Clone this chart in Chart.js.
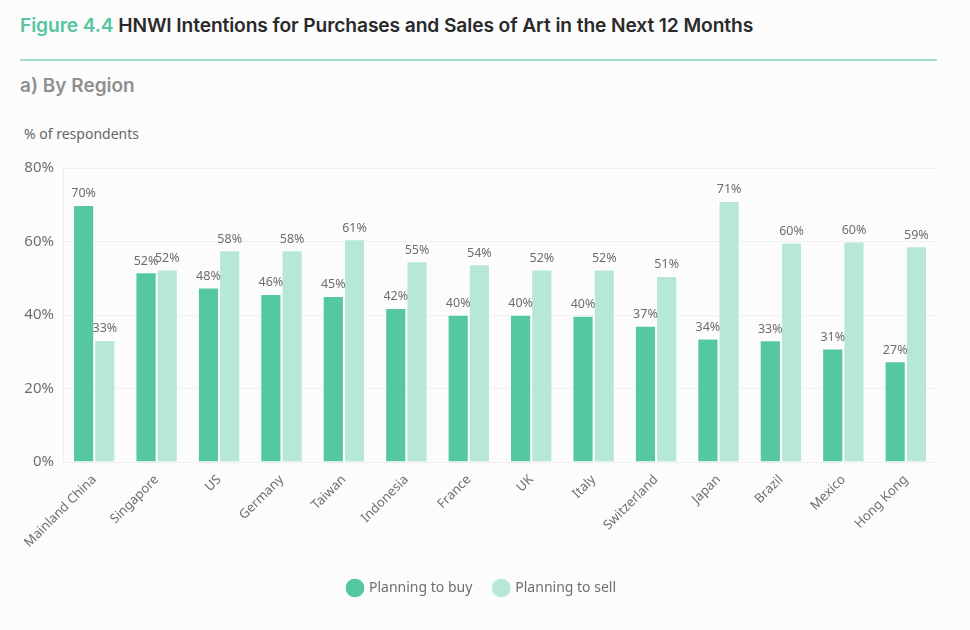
<!DOCTYPE html>
<html>
<head>
<meta charset="utf-8">
<script src="https://cdn.jsdelivr.net/npm/chart.js@4.4.1/dist/chart.umd.min.js"></script>
<style>
  html, body { margin:0; padding:0; background:#fcfcfc; }
  body { width:970px; height:630px; position:relative; overflow:hidden; font-family:"Inter", "Noto Sans", sans-serif; }
  #title { position:absolute; left:20px; top:13px; font-size:19.2px; font-weight:600; color:#2a2a2a; letter-spacing:-0.1px; white-space:nowrap; }
  #title span { color:#56c69e; }
  #rule { position:absolute; left:20px; top:59px; width:917px; height:2px; background:#a3dfc9; }
  #sub { position:absolute; left:20px; top:74px; font-size:19px; font-weight:600; color:#8f8f8f; }
  #ytitle { position:absolute; left:24px; top:124px; font-size:14px; color:#666; font-family:"Noto Sans", sans-serif; }
  #wrap { position:absolute; left:0; top:140px; width:970px; height:480px; }
</style>
</head>
<body>
<div id="title"><span>Figure 4.4</span> HNWI Intentions for Purchases and Sales of Art in the Next 12 Months</div>
<div id="rule"></div>
<div id="sub">a) By Region</div>
<div id="ytitle">% of respondents</div>
<div id="wrap"><canvas id="c"></canvas></div>
<script>
const categories = ["Mainland China","Singapore","US","Germany","Taiwan","Indonesia","France","UK","Italy","Switzerland","Japan","Brazil","Mexico","Hong Kong"];
const planningToBuy  = [69.9, 51.6, 47.5, 45.7, 45.2, 41.9, 40.1, 40.1, 39.8, 37.1, 33.6, 33.1, 30.9, 27.4];
const planningToSell = [33.2, 52.4, 57.6, 57.6, 60.6, 54.6, 53.8, 52.4, 52.4, 50.6, 71.0, 59.7, 60.0, 58.7];
const yTicks = [0, 20, 40, 60, 80];

const BUY = "#56c8a0", SELL = "#b6e8d5", TXT = "#6e6e6e";

const valueLabels = {
  id: "valueLabels",
  afterDatasetsDraw(chart) {
    const ctx = chart.ctx;
    ctx.save();
    ctx.font = '12.5px "Noto Sans", sans-serif';
    ctx.fillStyle = TXT;
    ctx.textAlign = "center";
    ctx.textBaseline = "bottom";
    chart.data.datasets.forEach((ds, di) => {
      chart.getDatasetMeta(di).data.forEach((bar, i) => {
        ctx.fillText(Math.round(ds.data[i]) + "%", bar.x, bar.y - 5);
      });
    });
    ctx.restore();
  }
};

new Chart(document.getElementById("c"), {
  type: "bar",
  data: {
    labels: categories,
    datasets: [
      { label: "Planning to buy", data: planningToBuy, backgroundColor: BUY, borderColor: "#ffffff", borderWidth: 1 },
      { label: "Planning to sell", data: planningToSell, backgroundColor: SELL, borderColor: "#ffffff", borderWidth: 1 }
    ]
  },
  options: {
    responsive: true,
    maintainAspectRatio: false,
    animation: false,
    layout: { padding: { left: 0, right: 6, top: 28, bottom: 15 } },
    categoryPercentage: 0.68,
    barPercentage: 1.0,
    plugins: {
      legend: {
        position: "bottom",
        labels: {
          usePointStyle: true, pointStyle: "circle", boxWidth: 15, boxHeight: 15,
          color: TXT, font: { family: '"Noto Sans", sans-serif', size: 14 }, padding: 22
        }
      },
      tooltip: { enabled: false }
    },
    scales: {
      x: {
        grid: { display: false },
        border: { color: "#eeeeee" },
        ticks: { color: TXT, font: { family: '"Noto Sans", sans-serif', size: 13 }, maxRotation: 45, minRotation: 45, padding: 2 },
        afterFit(s) { s.height = 97; }
      },
      y: {
        min: 0, max: 80,
        afterBuildTicks(s) { s.ticks = yTicks.map(v => ({ value: v })); },
        grid: { color: "#f0f0f0", drawTicks: false },
        border: { color: "#eeeeee" },
        ticks: { color: TXT, font: { family: '"Noto Sans", sans-serif', size: 15 }, padding: 9, callback: v => v + "%" },
        afterFit(s) { s.width = 63; }
      },
      yRight: {
        position: "right",
        min: 0, max: 80,
        grid: { display: false },
        border: { display: false },
        ticks: { display: false },
        afterFit(s) { s.width = 27; }
      }
    }
  },
  plugins: [valueLabels]
});
</script>
</body>
</html>
